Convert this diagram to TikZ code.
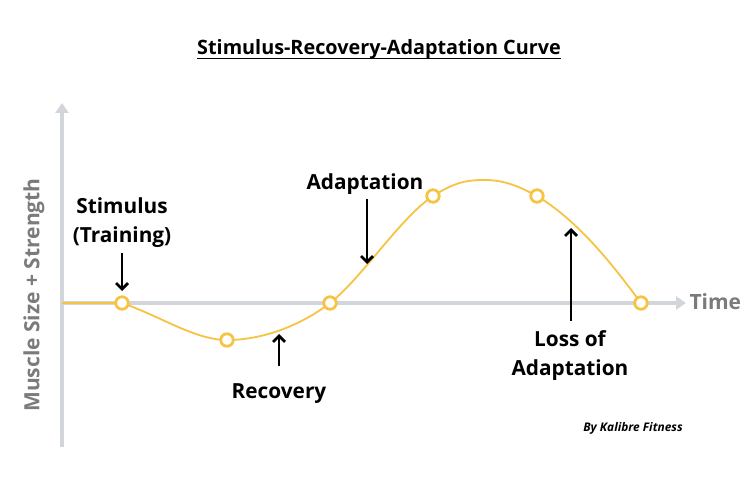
\documentclass[tikz,border=0pt]{standalone}
\usepackage{fontspec}
\setmainfont{Open Sans}
\usetikzlibrary{arrows.meta}
\definecolor{curveor}{HTML}{F7C343}
\definecolor{axisgray}{HTML}{D2D5DA}
\definecolor{labgray}{HTML}{7B7B7B}
\tikzset{
  lab/.style={font=\bfseries\fontsize{20.8}{29}\selectfont, align=center, text=black},
  axlab/.style={font=\bfseries\fontsize{21}{25}\selectfont, text=labgray},
  axisline/.style={draw=axisgray, line width=3.5pt, -{Triangle[length=10pt,width=13pt]}},
  ptr/.style={draw=black, line width=2.8pt, -{Straight Barb[length=6pt,width=12pt,line width=2.8pt]}},
  curve/.style={draw=curveor, line width=1.8pt},
  pt/.style={circle, draw=curveor, fill=white, line width=2.8pt, minimum size=12.5pt, inner sep=0pt}
}
\begin{document}
\begin{tikzpicture}[x=1pt,y=-1pt]
\useasboundingbox[fill=white] (0,0) rectangle (745,497);
% title
\node[font=\bfseries\fontsize{19.8}{24}\selectfont, inner sep=0pt] (title) at (379,49) {Stimulus-Recovery-Adaptation Curve};
\coordinate (ulA) at ([yshift=-4.5pt]title.base west);
\coordinate (ulB) at ([yshift=-4.5pt]title.base east);
\draw[line width=1.6pt] (ulA) -- (ulB);
% axes
\coordinate (o) at (62,303);
\coordinate (ybot) at (62,447);
\coordinate (ytop) at (62,103);
\coordinate (xend) at (686,303);
\draw[axisline] (ybot) -- (ytop);
\draw[axisline] (o) -- (xend);
\node[axlab, anchor=west] (time) at (686,302) {Time};
\node[axlab, rotate=90] (ylab) at (34,295) {Muscle Size + Strength};
% curve points
\coordinate (p0) at (122,303);
\coordinate (p1) at (227,340);
\coordinate (p2) at (330,303);
\coordinate (p3) at (433,196);
\coordinate (pk) at (485,180);
\coordinate (p4) at (537,196);
\coordinate (p5) at (641,303);
\draw[curve] (o) -- (p0)
  .. controls (160,316) and (195,340) .. (p1)
  .. controls (262,340) and (300,326) .. (p2)
  .. controls (362,278) and (400,218) .. (p3)
  .. controls (455,182) and (467,180) .. (pk)
  .. controls (505,180) and (520,187) .. (p4)
  .. controls (580,222) and (615,268) .. (p5);
\node[pt] (c0) at (p0) {};
\node[pt] (c1) at (p1) {};
\node[pt] (c2) at (p2) {};
\node[pt] (c3) at (p3) {};
\node[pt] (c4) at (p4) {};
\node[pt] (c5) at (p5) {};
% labels
\node[lab] (stim) at (122,223) {Stimulus\\(Training)};
\coordinate (stimA) at (122,253);
\coordinate (stimB) at (122,291);
\draw[ptr] (stimA) -- (stimB);
\node[lab] (rec) at (279,394) {Recovery};
\coordinate (recA) at (279,366);
\coordinate (recB) at (279,334);
\draw[ptr] (recA) -- (recB);
\node[lab] (adapt) at (365,184) {Adaptation};
\coordinate (adA) at (367,199);
\coordinate (adB) at (367,264);
\draw[ptr] (adA) -- (adB);
\node[lab] (loss) at (570,356) {Loss of\\Adaptation};
\coordinate (lsA) at (571,321);
\coordinate (lsB) at (571,228);
\draw[ptr] (lsA) -- (lsB);
\node[font=\bfseries\itshape\fontsize{11.9}{14}\selectfont] (by) at (633,428) {By Kalibre Fitness};
\end{tikzpicture}
\end{document}
